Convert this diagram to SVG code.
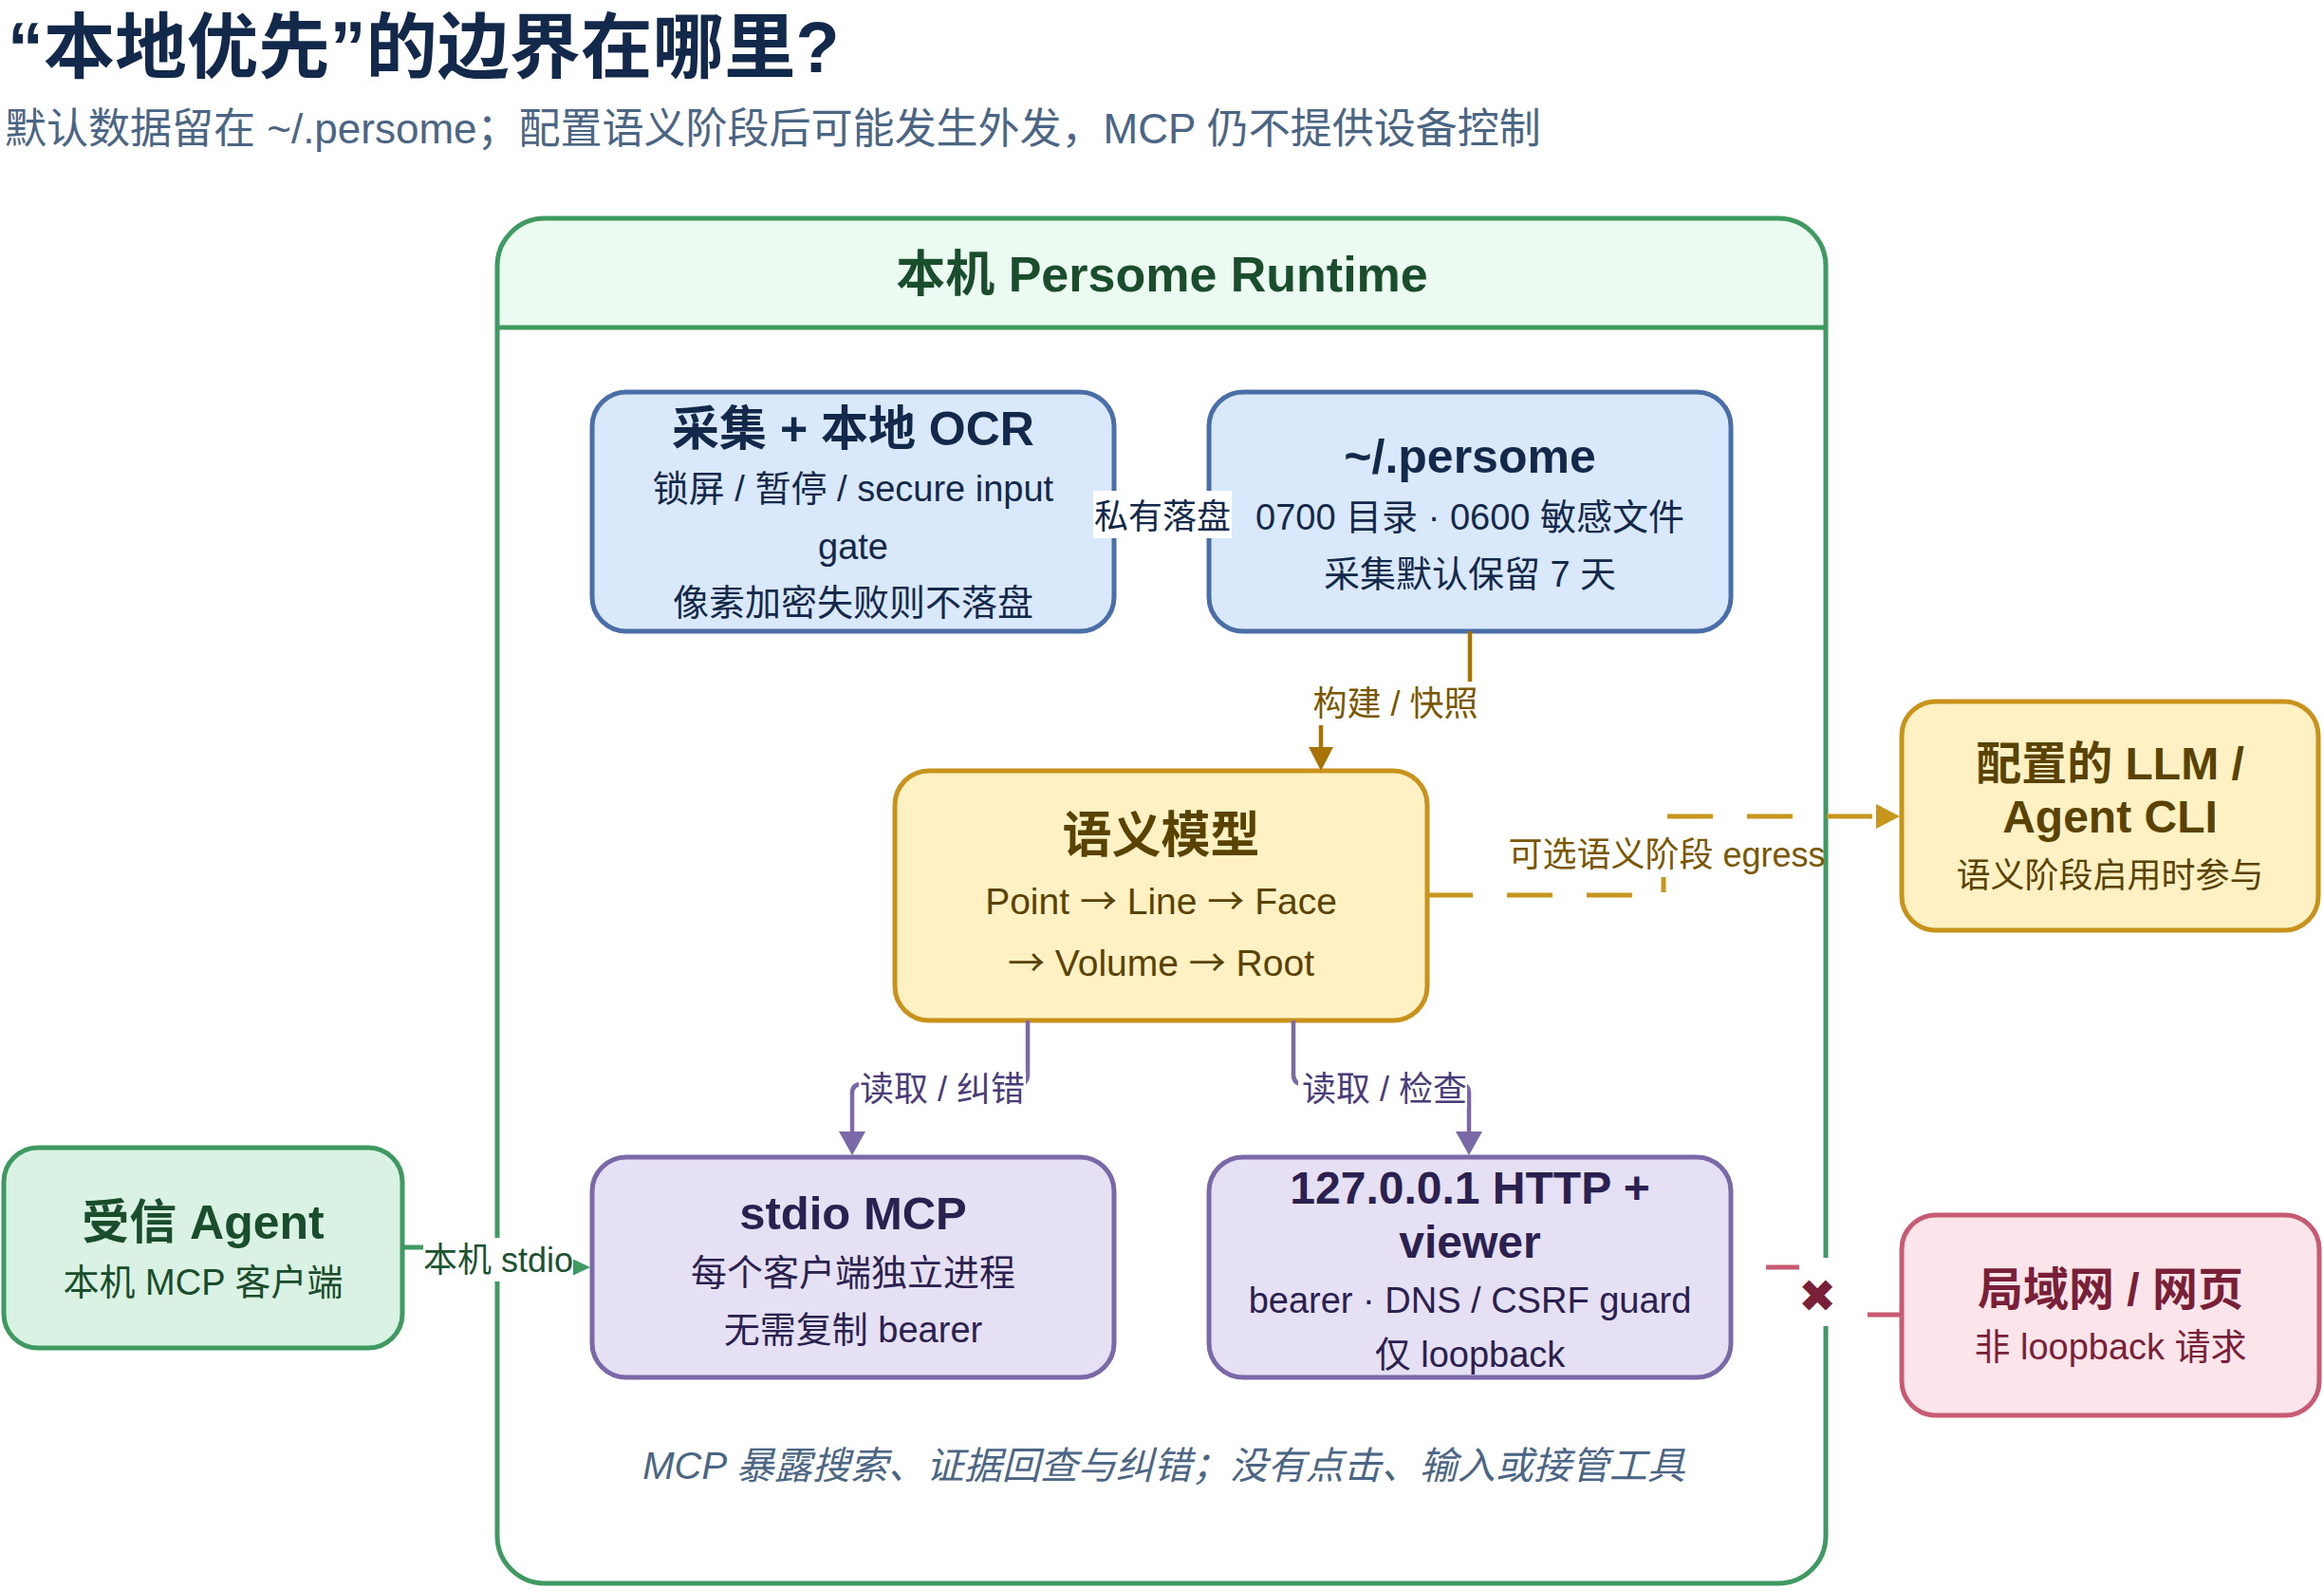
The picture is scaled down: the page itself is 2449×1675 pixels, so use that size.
<svg xmlns="http://www.w3.org/2000/svg" width="2449" height="1675" viewBox="0 0 2449 1675">
<defs>
<style>
text{font-family:"Liberation Sans","Noto Sans CJK SC",sans-serif;text-anchor:middle}
.h{font-weight:bold}
.ar{font-family:"Noto Sans CJK SC","DejaVu Sans",sans-serif}
.node rect{stroke-width:5}
.blue rect{fill:#dae8fc;stroke:#4a6fa8}
.blue text{fill:#13294b}
.gold rect{fill:#fff1c4;stroke:#c9921b}
.gold text{fill:#5a4300}
.purple rect{fill:#e6e0f4;stroke:#7b68a8}
.purple text{fill:#2a2150}
.green rect{fill:#d9f2e3;stroke:#3f9a62}
.green text{fill:#1a4d2b}
.pink rect{fill:#fce5ea;stroke:#c75b73}
.pink text{fill:#7a1f38}
.edge{fill:none}
.lbl{font-size:36px}
.lblbg{fill:#ffffff}
</style>
<marker id="ah-gold" viewBox="0 0 10 10" refX="0" refY="5" markerUnits="userSpaceOnUse" markerWidth="25" markerHeight="26" orient="auto" preserveAspectRatio="none"><path d="M0 0L10 5L0 10z" fill="#a87300"/></marker>
<marker id="ah-gold2" viewBox="0 0 10 10" refX="0" refY="5" markerUnits="userSpaceOnUse" markerWidth="25" markerHeight="26" orient="auto" preserveAspectRatio="none"><path d="M0 0L10 5L0 10z" fill="#c8951d"/></marker>
<marker id="ah-purple" viewBox="0 0 10 10" refX="0" refY="5" markerUnits="userSpaceOnUse" markerWidth="25" markerHeight="28" orient="auto" preserveAspectRatio="none"><path d="M0 0L10 5L0 10z" fill="#7b68a8"/></marker>
<marker id="ah-green" viewBox="0 0 10 10" refX="0" refY="5" markerUnits="userSpaceOnUse" markerWidth="18" markerHeight="17" orient="auto" preserveAspectRatio="none"><path d="M0 0L10 5L0 10z" fill="#3f9a62"/></marker>
</defs>
<rect x="0" y="0" width="2449" height="1675" fill="#ffffff"/>

<g id="heading">
<text x="8" y="76" font-size="75.5" class="h" fill="#13294b" style="text-anchor:start">“本地优先”的边界在哪里?</text>
<text x="5" y="151" font-size="44" fill="#4b6584" style="text-anchor:start">默认数据留在 ~/.persome；配置语义阶段后可能发生外发，MCP 仍不提供设备控制</text>
</g>

<g id="runtime">
<rect x="524" y="230" width="1400" height="1438" rx="50" fill="#ffffff"/>
<path d="M524 345V280A50 50 0 0 1 574 230H1874A50 50 0 0 1 1924 280V345Z" fill="#ebfbf1"/>
<rect x="524" y="230" width="1400" height="1438" rx="50" fill="none" stroke="#3f9a62" stroke-width="5"/>
<line x1="524" y1="345" x2="1924" y2="345" stroke="#3f9a62" stroke-width="5"/>
<text x="1224.5" y="307" font-size="52" class="h" fill="#1a4d2b">本机 Persome Runtime</text>
<text x="1226.5" y="1558" font-size="40" font-style="italic" fill="#4b6584">MCP 暴露搜索、证据回查与纠错；没有点击、输入或接管工具</text>
</g>

<g id="capture" class="node blue">
<rect x="624" y="413" width="550" height="252" rx="36"/>
<text x="899" y="469" class="h" font-size="50">采集 + 本地 OCR</text>
<text x="899" y="528" font-size="38">锁屏 / 暂停 / secure input</text>
<text x="899" y="589" font-size="38">gate</text>
<text x="899" y="648" font-size="38">像素加密失败则不落盘</text>
</g>

<g id="persome-dir" class="node blue">
<rect x="1274" y="413" width="550" height="252" rx="36"/>
<text x="1549" y="498" class="h" font-size="50">~/.persome</text>
<text x="1549" y="558" font-size="38">0700 目录 · 0600 敏感文件</text>
<text x="1549" y="618" font-size="38">采集默认保留 7 天</text>
</g>

<g id="semantic-model" class="node gold">
<rect x="943" y="812" width="561" height="263" rx="36"/>
<text x="1223.5" y="898" class="h" font-size="52">语义模型</text>
<text x="1223.5" y="963" font-size="39">Point <tspan class="ar">→</tspan> Line <tspan class="ar">→</tspan> Face</text>
<text x="1223.5" y="1028" font-size="39"><tspan class="ar">→</tspan> Volume <tspan class="ar">→</tspan> Root</text>
</g>

<g id="llm" class="node gold">
<rect x="2004" y="739" width="439" height="241" rx="36"/>
<text x="2223.5" y="821" class="h" font-size="48">配置的 LLM /</text>
<text x="2223.5" y="877" class="h" font-size="48">Agent CLI</text>
<text x="2223.5" y="935" font-size="36">语义阶段启用时参与</text>
</g>

<g id="trusted-agent" class="node green">
<rect x="4" y="1209" width="420" height="211" rx="36"/>
<text x="214" y="1305" class="h" font-size="50">受信 Agent</text>
<text x="214" y="1364" font-size="38">本机 MCP 客户端</text>
</g>

<g id="stdio-mcp" class="node purple">
<rect x="624" y="1219" width="550" height="232" rx="36"/>
<text x="899" y="1295" class="h" font-size="49">stdio MCP</text>
<text x="899" y="1354" font-size="38">每个客户端独立进程</text>
<text x="899" y="1414" font-size="38">无需复制 bearer</text>
</g>

<g id="http-viewer" class="node purple">
<rect x="1274" y="1219" width="550" height="232" rx="36"/>
<text x="1549" y="1268" class="h" font-size="48">127.0.0.1 HTTP +</text>
<text x="1549" y="1325" class="h" font-size="48">viewer</text>
<text x="1549" y="1383" font-size="38">bearer · DNS / CSRF guard</text>
<text x="1549" y="1440" font-size="38">仅 loopback</text>
</g>

<g id="lan-web" class="node pink">
<rect x="2004" y="1280" width="440" height="211" rx="36"/>
<text x="2224" y="1375" class="h" font-size="48">局域网 / 网页</text>
<text x="2224" y="1432" font-size="38">非 loopback 请求</text>
</g>

<g id="connectors">
<path class="edge" d="M1174 540H1274" stroke="#4a6fa8" stroke-width="5"/>
<rect class="lblbg" x="1152" y="517" width="146" height="50"/>
<text class="lbl" x="1225" y="557" fill="#13294b">私有落盘</text>

<path class="edge" d="M1549 665V740H1392V787" stroke="#a87300" stroke-width="4.5" marker-end="url(#ah-gold)"/>
<rect class="lblbg" x="1380" y="718" width="181" height="46"/>
<text class="lbl" x="1470.5" y="754" fill="#7a5700">构建 / 快照</text>

<path class="edge" d="M1504 943H1753V860H1977" stroke="#c8951d" stroke-width="5" stroke-dasharray="48 36" marker-end="url(#ah-gold2)"/>
<rect class="lblbg" x="1588" y="880" width="333" height="44"/>
<text class="lbl" x="1756.5" y="913" fill="#7a5700">可选语义阶段 egress</text>

<path class="edge" d="M1083 1075V1132Q1083 1142 1073 1142H908Q898 1142 898 1152V1192" stroke="#7b68a8" stroke-width="4.5" marker-end="url(#ah-purple)"/>
<rect class="lblbg" x="905" y="1128" width="176" height="40"/>
<text class="lbl" x="993" y="1160" fill="#4a3c7a">读取 / 纠错</text>

<path class="edge" d="M1363 1075V1132Q1363 1142 1373 1142H1538Q1548 1142 1548 1152V1192" stroke="#7b68a8" stroke-width="4.5" marker-end="url(#ah-purple)"/>
<rect class="lblbg" x="1368" y="1128" width="178" height="40"/>
<text class="lbl" x="1459" y="1160" fill="#4a3c7a">读取 / 检查</text>

<path class="edge" d="M424 1314H500V1335H604" stroke="#3f9a62" stroke-width="5" marker-end="url(#ah-green)"/>
<rect class="lblbg" x="446" y="1304" width="158" height="46"/>
<text class="lbl" x="525" y="1340" fill="#1b5230">本机 stdio</text>

<path class="edge" d="M1861 1335H1896M1968 1385H2004" stroke="#c75b73" stroke-width="5"/>
<rect class="lblbg" x="1897" y="1325" width="50" height="72"/>
<text x="1915" y="1382" font-size="48" fill="#7a1f38" style="font-family:'DejaVu Sans',sans-serif">✖</text>
</g>
</svg>
